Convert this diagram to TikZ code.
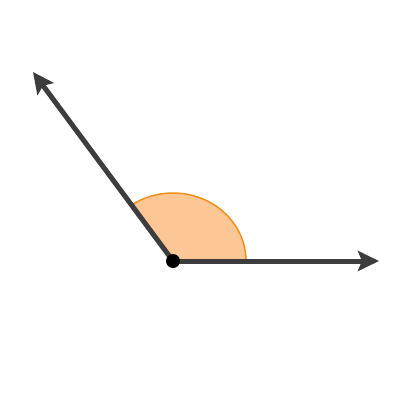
\documentclass[tikz,border=0pt]{standalone}
\usetikzlibrary{arrows.meta}
\definecolor{raycol}{HTML}{3D3D3D}
\definecolor{fillor}{HTML}{FDC795}
\definecolor{lineor}{HTML}{F0901C}
\tikzset{
  ray/.style={draw=raycol,line width=5pt,-{Stealth[length=21pt,width=20pt,inset=4pt]}},
  sector/.style={fill=fillor,draw=lineor,line width=1.5pt},
  vdot/.style={circle,fill=black,inner sep=0pt,minimum size=14pt}
}
\begin{document}
\begin{tikzpicture}[x=1pt,y=-1pt]
\useasboundingbox (0,0) rectangle (400,400);
\fill[white] (0,0) rectangle (400,400);
\coordinate (V) at (173,261);
\coordinate (A) at (33,72);
\coordinate (B) at (379,261);
\path[sector] (V) -- ++(73,0) arc[start angle=0,end angle=-124.6,x radius=73,y radius=68] -- cycle;
\draw[ray] (V) -- (A);
\draw[ray] (V) -- (B);
\node[vdot] (v) at (V) {};
\end{tikzpicture}
\end{document}
